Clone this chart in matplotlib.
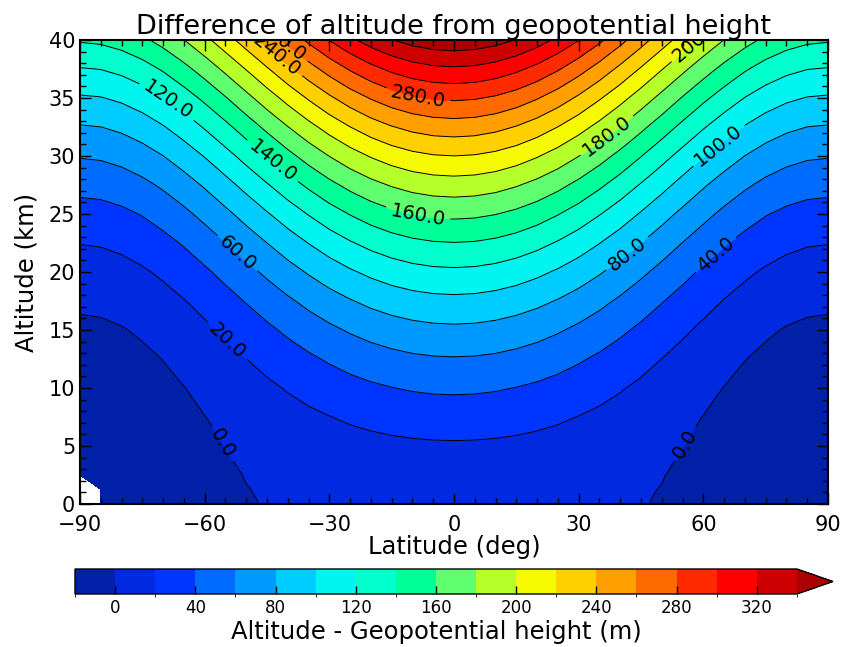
import numpy as np
import matplotlib.pyplot as plt
from matplotlib.colors import ListedColormap, BoundaryNorm
from matplotlib.ticker import MultipleLocator

# grid: latitude (deg) x altitude (km), values in metres
latitudes = [-90, -85, -80, -75, -70, -65, -60, -55, -50, -45, -40, -35, -30,
             -25, -20, -15, -10, -5, 0, 5, 10, 15, 20, 25, 30, 35, 40, 45,
             50, 55, 60, 65, 70, 75, 80, 85, 90]
altitudes = [0, 0.5, 1.25, 2.5, 5, 7.5, 10, 12.5, 15, 17.5, 20, 22.5, 25, 27.5,
             30, 32.5, 35, 37.5, 40]

# nan = no data (white corner at the south pole surface)
diff_00km = [np.nan, -0.24, -0.23, -0.21, -0.19, -0.15, -0.12, -0.07, -0.03, 0.02,
             0.06, 0.11, 0.15, 0.19, 0.22, 0.25, 0.27, 0.28, 0.28,
             0.28, 0.27, 0.25, 0.22, 0.19, 0.15, 0.11, 0.06, 0.02,
             -0.03, -0.07, -0.12, -0.15, -0.19, -0.21, -0.23, -0.24, -0.25]
diff_005km = [np.nan, -1.18, -1.12, -1.03, -0.89, -0.73, -0.54, -0.33, -0.11, 0.12,
              0.35, 0.57, 0.78, 0.97, 1.13, 1.27, 1.36, 1.42, 1.44,
              1.42, 1.36, 1.27, 1.13, 0.97, 0.78, 0.57, 0.35, 0.12,
              -0.11, -0.33, -0.54, -0.73, -0.89, -1.03, -1.12, -1.18, -1.20]
diff_01km = [np.nan, -2.81, -2.67, -2.42, -2.09, -1.68, -1.21, -0.69, -0.13, 0.44,
             1.02, 1.57, 2.09, 2.57, 2.97, 3.31, 3.55, 3.70, 3.75,
             3.70, 3.55, 3.31, 2.97, 2.57, 2.09, 1.57, 1.02, 0.44,
             -0.13, -0.69, -1.21, -1.68, -2.09, -2.42, -2.67, -2.81, -2.86]
diff_02km = [-5.3, -5.2, -4.9, -4.4, -3.7, -2.9, -2.0, -0.9, 0.2, 1.4,
             2.5, 3.6, 4.7, 5.6, 6.4, 7.1, 7.6, 7.9, 8.0,
             7.9, 7.6, 7.1, 6.4, 5.6, 4.7, 3.6, 2.5, 1.4,
             0.2, -0.9, -2.0, -2.9, -3.7, -4.4, -4.9, -5.2, -5.3]
diff_05km = [-8.6, -8.4, -7.8, -6.9, -5.5, -3.9, -2.0, 0.1, 2.3, 4.6,
             6.9, 9.1, 11.2, 13.1, 14.7, 16.0, 17.0, 17.6, 17.8,
             17.6, 17.0, 16.0, 14.7, 13.1, 11.2, 9.1, 6.9, 4.6,
             2.3, 0.1, -2.0, -3.9, -5.5, -6.9, -7.8, -8.4, -8.6]
diff_07km = [-10.1, -9.8, -8.9, -7.5, -5.5, -3.0, -0.2, 2.9, 6.3, 9.7,
             13.2, 16.5, 19.6, 22.5, 24.9, 26.9, 28.4, 29.3, 29.6,
             29.3, 28.4, 26.9, 24.9, 22.5, 19.6, 16.5, 13.2, 9.7,
             6.3, 2.9, -0.2, -3.0, -5.5, -7.5, -8.9, -9.8, -10.1]
diff_10km = [-9.7, -9.3, -8.1, -6.2, -3.5, -0.3, 3.5, 7.7, 12.1, 16.7,
             21.3, 25.8, 29.9, 33.7, 37.0, 39.6, 41.6, 42.8, 43.2,
             42.8, 41.6, 39.6, 37.0, 33.7, 29.9, 25.8, 21.3, 16.7,
             12.1, 7.7, 3.5, -0.3, -3.5, -6.2, -8.1, -9.3, -9.7]
diff_12km = [-7.5, -7.0, -5.5, -3.0, 0.3, 4.4, 9.1, 14.3, 19.9, 25.6,
             31.4, 36.9, 42.1, 46.9, 50.9, 54.2, 56.7, 58.2, 58.7,
             58.2, 56.7, 54.2, 50.9, 46.9, 42.1, 36.9, 31.4, 25.6,
             19.9, 14.3, 9.1, 4.4, 0.3, -3.0, -5.5, -7.0, -7.5]
diff_15km = [-3.3, -2.7, -0.9, 2.0, 6.0, 10.9, 16.5, 22.8, 29.5, 36.4,
             43.3, 50.0, 56.2, 61.9, 66.8, 70.7, 73.7, 75.5, 76.1,
             75.5, 73.7, 70.7, 66.8, 61.9, 56.2, 50.0, 43.3, 36.4,
             29.5, 22.8, 16.5, 10.9, 6.0, 2.0, -0.9, -2.7, -3.3]
diff_17km = [2.8, 3.5, 5.5, 9.0, 13.6, 19.3, 25.9, 33.2, 41.0, 49.0,
             57.1, 64.9, 72.2, 78.8, 84.5, 89.1, 92.5, 94.6, 95.3,
             94.6, 92.5, 89.1, 84.5, 78.8, 72.2, 64.9, 57.1, 49.0,
             41.0, 33.2, 25.9, 19.3, 13.6, 9.0, 5.5, 3.5, 2.8]
diff_20km = [10.7, 11.5, 13.9, 17.8, 23.1, 29.6, 37.1, 45.5, 54.4, 63.6,
             72.8, 81.7, 90.0, 97.6, 104.1, 109.4, 113.3, 115.7, 116.5,
             115.7, 113.3, 109.4, 104.1, 97.6, 90.0, 81.7, 72.8, 63.6,
             54.4, 45.5, 37.1, 29.6, 23.1, 17.8, 13.9, 11.5, 10.7]
diff_22km = [20.5, 21.4, 24.1, 28.5, 34.4, 41.7, 50.2, 59.7, 69.7, 80.0,
             90.3, 100.4, 109.8, 118.3, 125.6, 131.5, 135.9, 138.6, 139.5,
             138.6, 135.9, 131.5, 125.6, 118.3, 109.8, 100.4, 90.3, 80.0,
             69.7, 59.7, 50.2, 41.7, 34.4, 28.5, 24.1, 21.4, 20.5]
diff_25km = [32.2, 33.2, 36.2, 41.0, 47.7, 55.8, 65.3, 75.7, 86.8, 98.3,
             109.8, 120.9, 131.4, 140.8, 149.0, 155.6, 160.5, 163.4, 164.4,
             163.4, 160.5, 155.6, 149.0, 140.8, 131.4, 120.9, 109.8, 98.3,
             86.8, 75.7, 65.3, 55.8, 47.7, 41.0, 36.2, 33.2, 32.2]
diff_27km = [45.8, 46.9, 50.2, 55.5, 62.8, 71.7, 82.1, 93.6, 105.9, 118.5,
             131.1, 143.4, 154.9, 165.3, 174.2, 181.5, 186.9, 190.1, 191.2,
             190.1, 186.9, 181.5, 174.2, 165.3, 154.9, 143.4, 131.1, 118.5,
             105.9, 93.6, 82.1, 71.7, 62.8, 55.5, 50.2, 46.9, 45.8]
diff_30km = [61.2, 62.4, 66.0, 71.9, 79.8, 89.6, 100.9, 113.4, 126.8, 140.6,
             154.4, 167.7, 180.3, 191.6, 201.4, 209.3, 215.1, 218.7, 219.9,
             218.7, 215.1, 209.3, 201.4, 191.6, 180.3, 167.7, 154.4, 140.6,
             126.8, 113.4, 100.9, 89.6, 79.8, 71.9, 66.0, 62.4, 61.2]
diff_32km = [78.6, 79.9, 83.8, 90.1, 98.7, 109.3, 121.6, 135.1, 149.6, 164.5,
             179.5, 193.9, 207.5, 219.8, 230.4, 239.0, 245.3, 249.2, 250.5,
             249.2, 245.3, 239.0, 230.4, 219.8, 207.5, 193.9, 179.5, 164.5,
             149.6, 135.1, 121.6, 109.3, 98.7, 90.1, 83.8, 79.9, 78.6]
diff_35km = [97.8, 99.2, 103.4, 110.2, 119.5, 130.9, 144.1, 158.7, 174.3, 190.4,
             206.5, 222.0, 236.7, 249.9, 261.3, 270.6, 277.4, 281.6, 283.0,
             281.6, 277.4, 270.6, 261.3, 249.9, 236.7, 222.0, 206.5, 190.4,
             174.3, 158.7, 144.1, 130.9, 119.5, 110.2, 103.4, 99.2, 97.8]
diff_37km = [118.9, 120.4, 124.9, 132.2, 142.1, 154.4, 168.5, 184.2, 200.9, 218.1,
             235.3, 252.0, 267.7, 281.9, 294.1, 304.0, 311.3, 315.8, 317.3,
             315.8, 311.3, 304.0, 294.1, 281.9, 267.7, 252.0, 235.3, 218.1,
             200.9, 184.2, 168.5, 154.4, 142.1, 132.2, 124.9, 120.4, 118.9]
diff_40km = [141.9, 143.5, 148.3, 156.1, 166.7, 179.7, 194.8, 211.5, 229.3, 247.7,
             266.1, 283.9, 300.6, 315.7, 328.8, 339.3, 347.1, 351.9, 353.5,
             351.9, 347.1, 339.3, 328.8, 315.7, 300.6, 283.9, 266.1, 247.7,
             229.3, 211.5, 194.8, 179.7, 166.7, 156.1, 148.3, 143.5, 141.9]

levels = list(range(-20, 341, 20))
cbar_ticks = list(range(0, 321, 40))

band_colors = ['#0020A8', '#0029E0', '#0035FF', '#006BFF', '#0099FF', '#00CCFF',
               '#00F5F0', '#00FFCC', '#00FF99', '#60FF70', '#B5FF2A', '#F5FA00',
               '#FFD000', '#FFA000', '#FF6A00', '#FF2A00', '#FF0000', '#CC0000']
over_color = '#AA0000'

z = np.array([diff_00km, diff_005km, diff_01km, diff_02km, diff_05km, diff_07km,
              diff_10km, diff_12km, diff_15km, diff_17km, diff_20km, diff_22km,
              diff_25km, diff_27km, diff_30km, diff_32km, diff_35km, diff_37km,
              diff_40km])
z = np.ma.masked_invalid(z)

cmap = ListedColormap(band_colors)
cmap.set_over(over_color)
norm = BoundaryNorm(levels, cmap.N)

fig = plt.figure(figsize=(8.51, 6.47), dpi=100)
ax = fig.add_axes([80 / 851, 143 / 647, 748 / 851, 464 / 647])

cf = ax.contourf(latitudes, altitudes, z, levels=levels, cmap=cmap, norm=norm, extend='max')
cs = ax.contour(latitudes, altitudes, z, levels=levels[1:], colors='k', linewidths=0.7)

# where the labels sit on the lines
label_spots = [(-55.3, 5.3), (-54.6, 14.0), (-52.2, 21.6), (-69.1, 34.7),
               (-43.8, 29.5), (-43.1, 38.5), (-41.5, 39.9), (-8.7, 24.9),
               (-8.7, 35.0), (37.1, 31.6), (64.0, 30.8), (41.9, 21.5),
               (63.3, 21.4), (58.5, 39.9), (55.1, 5.3)]
texts = ax.clabel(cs, fmt='%.1f', fontsize=14, inline=True, manual=label_spots)
for t in texts:
    t.set_clip_on(True)

ax.set_xlim(-90, 90)
ax.set_ylim(0, 40)
ax.set_xticks([-90, -60, -30, 0, 30, 60, 90])
ax.set_yticks(range(0, 41, 5))
ax.xaxis.set_minor_locator(MultipleLocator(5))
ax.yaxis.set_minor_locator(MultipleLocator(1))
ax.tick_params(which='both', direction='in', top=True, right=True, labelsize=15)
ax.tick_params(which='major', length=8, width=1)
ax.tick_params(which='minor', length=4, width=1)
ax.tick_params(axis='x', pad=8)
for s in ax.spines.values():
    s.set_linewidth(1.5)
ax.set_xlabel('Latitude (deg)', fontsize=17.5, labelpad=0)
ax.set_ylabel('Altitude (km)', fontsize=17.5, labelpad=7)
ax.set_title('Difference of altitude from geopotential height', fontsize=19.5, pad=4)

# colorbar axes includes the extension triangle
cax = fig.add_axes([75 / 851, 53 / 647, 758 / 851, 25 / 647])
cb = fig.colorbar(cf, cax=cax, orientation='horizontal', ticks=cbar_ticks)
cb.ax.tick_params(direction='in', length=6, width=1, labelsize=12)
cb.outline.set_linewidth(1.0)
cb.set_label('Altitude - Geopotential height (m)', fontsize=17.5, labelpad=2)

fig.savefig('out.png', dpi=100)
